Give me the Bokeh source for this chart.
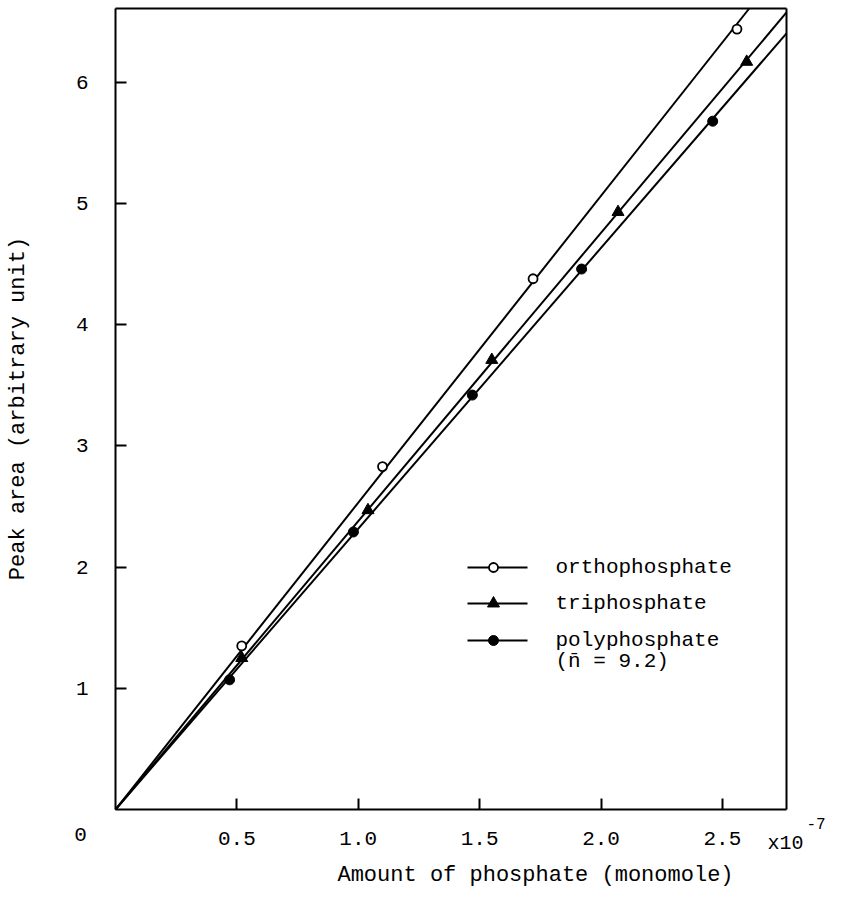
import math
from bokeh.plotting import figure
from bokeh.models import Label, FixedTicker, Range1d, LinearAxis
from bokeh.embed import file_html
from bokeh.resources import INLINE

# ---- data (x in units of 1e-7 monomole, y peak area arbitrary unit) ----
ortho_x = [0.52, 1.10, 1.72, 2.56]
ortho_y = [1.35, 2.83, 4.38, 6.44]
tri_x = [0.52, 1.04, 1.55, 2.07, 2.60]
tri_y = [1.25, 2.47, 3.71, 4.93, 6.17]
poly_x = [0.47, 0.98, 1.47, 1.92, 2.46]
poly_y = [1.07, 2.29, 3.42, 4.46, 5.68]

x_ticks = [0.5, 1.0, 1.5, 2.0, 2.5]
x_tick_labels = ["0.5", "1.0", "1.5", "2.0", "2.5"]
y_ticks = [1, 2, 3, 4, 5, 6]
y_tick_labels = ["1", "2", "3", "4", "5", "6"]

series_names = ["orthophosphate", "triphosphate", "polyphosphate"]
x_title = "Amount of phosphate (monomole)"
y_title = "Peak area (arbitrary unit)"

# ---- layout / style constants ----
FONT = "Liberation Mono"
W, H = 837, 890
BOX_X = (0.0, 2.764)          # data extent of the drawn box
BOX_Y = (0.0, 6.61)
BOX_L, BOX_R, BOX_T, BOX_B = 115, 786, 8, 809   # box in canvas pixels

kx = (BOX_R - BOX_L) / (BOX_X[1] - BOX_X[0])
ky = (BOX_B - BOX_T) / (BOX_Y[1] - BOX_Y[0])


def dx(px):
    return BOX_X[0] + (px - BOX_L) / kx


def dy(py):
    return BOX_Y[0] + (BOX_B - py) / ky


def slope_through_origin(xs, ys):
    return sum(a * b for a, b in zip(xs, ys)) / sum(a * a for a in xs)


p = figure(width=W, height=H, output_backend="svg", toolbar_location=None,
           x_range=Range1d(dx(0), dx(W)), y_range=Range1d(dy(H), dy(0)),
           min_border=0, min_border_left=0, min_border_right=0,
           min_border_top=0, min_border_bottom=0, x_axis_location="below",
           y_axis_location="left")
p.background_fill_color = "white"
p.border_fill_color = "white"
p.outline_line_color = None
p.grid.visible = False

xa = p.xaxis[0]
ya = p.yaxis[0]
xa.fixed_location = BOX_Y[0]
ya.fixed_location = BOX_X[0]
xa.bounds = BOX_X
ya.bounds = BOX_Y

for ax in (xa, ya):
    ax.axis_line_width = 2
    ax.axis_line_color = "black"
    ax.major_tick_in = 11
    ax.major_tick_out = 0
    ax.major_tick_line_width = 2
    ax.minor_tick_line_color = None
    ax.major_label_text_font = FONT
    ax.major_label_text_font_size = "21px"
    ax.major_label_text_color = "black"

xa.ticker = FixedTicker(ticks=x_ticks)
xa.major_label_overrides = dict(zip(x_ticks, x_tick_labels))
xa.major_label_standoff = 22
ya.ticker = FixedTicker(ticks=y_ticks)
ya.major_label_overrides = dict(zip(y_ticks, y_tick_labels))
ya.major_label_standoff = 27

# top and right sides of the box
top_ax = LinearAxis(fixed_location=BOX_Y[1], bounds=BOX_X,
                    ticker=FixedTicker(ticks=[]), axis_line_width=2,
                    major_label_text_font_size="0px", major_tick_line_color=None,
                    minor_tick_line_color=None)
right_ax = LinearAxis(fixed_location=BOX_X[1], bounds=BOX_Y,
                      ticker=FixedTicker(ticks=[]), axis_line_width=2,
                      major_label_text_font_size="0px", major_tick_line_color=None,
                      minor_tick_line_color=None)
p.add_layout(top_ax, "above")
p.add_layout(right_ax, "right")

# fitted lines through origin, stopped at the box
for xs, ys in ((ortho_x, ortho_y), (tri_x, tri_y), (poly_x, poly_y)):
    k = slope_through_origin(xs, ys)
    xe = min(BOX_X[1], BOX_Y[1] / k)
    p.line([0.0, xe], [0.0, k * xe], line_color="black", line_width=2)

# markers
p.scatter(ortho_x, ortho_y, marker="circle", size=9, fill_color="white",
          line_color="black", line_width=1.8)
p.scatter(tri_x, tri_y, marker="triangle", size=12, fill_color="black",
          line_color="black")
p.scatter(poly_x, poly_y, marker="circle", size=10, fill_color="black",
          line_color="black")

# legend (drawn manually)
leg_rows = [dy(567), dy(603), dy(640)]
leg_x0, leg_x1, leg_mx, leg_tx = dx(467), dx(527), dx(493), dx(555)
leg_styles = [dict(marker="circle", size=9, fill_color="white", line_width=1.8),
              dict(marker="triangle", size=12, fill_color="black", line_width=1),
              dict(marker="circle", size=10, fill_color="black", line_width=1)]
for yy, name, st in zip(leg_rows, series_names, leg_styles):
    p.line([leg_x0, leg_x1], [yy, yy], line_color="black", line_width=2)
    p.scatter([leg_mx], [yy], line_color="black", **st)
    p.add_layout(Label(x=leg_tx, y=yy, text=name, text_font=FONT,
                       text_font_size="21px", text_baseline="middle",
                       text_align="left", text_color="black"))
p.add_layout(Label(x=leg_tx, y=dy(661), text="(n\u0304 = 9.2)", text_font=FONT,
                   text_font_size="21px", text_baseline="middle",
                   text_align="left", text_color="black"))

# axis titles and extra labels
p.add_layout(Label(x=dx(535), y=dy(875), text=x_title, text_font=FONT,
                   text_font_size="22px", text_align="center",
                   text_baseline="middle", text_color="black"))
p.add_layout(Label(x=dx(18), y=dy(408), text=y_title, text_font=FONT,
                   text_font_size="22px", text_align="center",
                   text_baseline="middle", angle=math.pi / 2,
                   text_color="black"))
p.add_layout(Label(x=dx(80), y=dy(834), text="0", text_font=FONT,
                   text_font_size="21px", text_align="center",
                   text_baseline="middle", text_color="black"))
p.add_layout(Label(x=dx(767), y=dy(843), text="x10", text_font=FONT,
                   text_font_size="20px", text_align="left",
                   text_baseline="middle", text_color="black"))
p.add_layout(Label(x=dx(806), y=dy(823), text="-7", text_font=FONT,
                   text_font_size="16px", text_align="left",
                   text_baseline="middle", text_color="black"))

open("out.html", "w").write(file_html(p, INLINE))
